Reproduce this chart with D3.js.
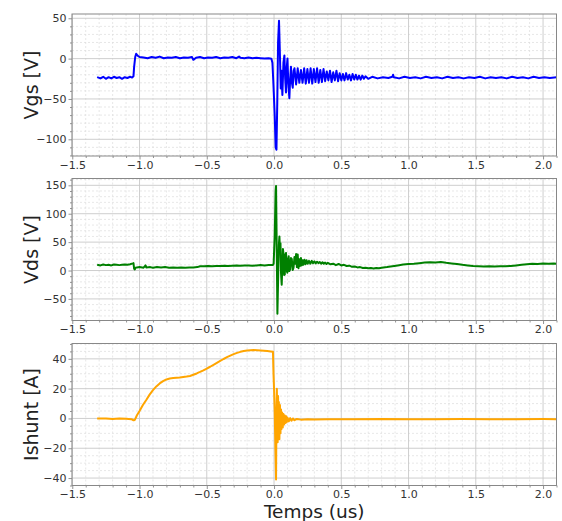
<!DOCTYPE html>
<html><head><meta charset="utf-8">
<script src="https://cdn.jsdelivr.net/npm/d3@7"></script>
<style>body{margin:0;background:#fff}</style>
</head><body><svg id="c" width="562" height="521"></svg>
<script>
// ---- data (time in us) ----
const timeTicks = [-1.5, -1.0, -0.5, 0.0, 0.5, 1.0, 1.5, 2.0];
const vgsTicks = [-100, -50, 0, 50];
const vdsTicks = [-50, 0, 50, 100, 150];
const ishuntTicks = [-40, -20, 0, 20, 40];
const panelLabels = ["Vgs [V]", "Vds [V]", "Ishunt [A]"];
const xLabel = "Temps (us)";

const vgsT = [-1.315,-1.29,-1.27,-1.25,-1.23,-1.21,-1.19,-1.17,-1.15,-1.13,-1.11,-1.09,-1.07,-1.055,-1.045,-1.04,-1.032,-1.025,-1.018,-1.01,-1.0,
  -0.97,-0.94,-0.91,-0.88,-0.85,-0.82,-0.79,-0.76,-0.73,-0.7,-0.67,-0.64,-0.61,-0.6,-0.58,-0.55,-0.52,-0.49,-0.46,-0.43,-0.4,-0.37,-0.34,-0.31,-0.28,-0.26,-0.25,-0.22,-0.19,-0.16,-0.13,-0.1,-0.07,-0.04,-0.02,
  -0.012,-0.005,0.005,0.012,0.018,0.024,0.03,0.037,0.043,0.05,0.055,0.062,0.07,0.077,0.083,0.089,0.095,0.1,0.106,0.114,0.12,0.126,0.133,0.139,0.146,
  0.152,0.164,0.176,0.188,0.2,0.212,0.224,0.236,0.248,0.26,0.272,0.284,0.296,0.308,0.32,0.332,0.344,0.356,0.368,0.38,0.392,0.404,0.416,0.428,0.44,0.452,0.464,0.476,0.488,0.5,0.512,0.524,0.536,0.548,0.56,0.572,0.584,0.596,0.608,0.62,0.632,0.644,0.656,0.668,0.68,0.7,
  0.73,0.77,0.81,0.85,0.88,0.885,0.89,0.93,0.97,1.01,1.05,1.09,1.13,1.17,1.21,1.25,1.29,1.33,1.37,1.41,1.45,1.49,1.53,1.57,1.61,1.65,1.69,1.73,1.77,1.81,1.85,1.89,1.93,1.97,2.01,2.05,2.1];
const vgsV = [-23,-24.5,-22.5,-25,-23,-24.5,-22.5,-24,-23,-25,-23,-24,-22.5,-23.5,-22,-10,2,6,4.5,3,2,
  1.5,0.5,2,1,2.5,0.5,1.5,1,2,0.5,1.5,1,2,-1.5,1,2,0.5,1.5,1,2,0.5,1.5,1,2,0.5,2.5,1,0.5,1.5,0.5,1,0.5,0,0.5,0,
  -5,-30,-70,-110,-113,-55,20,47,10,-37,-15,-45,-5,4,-25,-42,-10,0,-30,-49,-25,-10,-30,-36,-15,
  -12,-32,-12,-30,-14,-30,-12,-31,-13,-30,-12,-31,-13,-29,-12,-30,-14,-29,-13,-28,-16,-27,-15,-29,-17,-27,-15,-28,-18,-27,-19,-27,-18,-26,-20,-27,-19,-26,-20,-26,-21,-26,-21,-25,-22,-25,
  -22.5,-24.5,-23,-24,-22.5,-20,-23,-24.5,-22.5,-24,-23,-24.5,-22.5,-24,-23,-24.5,-22.5,-24,-23,-24.5,-23,-24,-22.5,-24.5,-23,-24,-23,-24.5,-22.5,-24,-23,-24.5,-22.5,-24,-23,-24,-23];

const vdsT = [-1.315,-1.29,-1.27,-1.25,-1.23,-1.21,-1.19,-1.17,-1.15,-1.13,-1.11,-1.09,-1.07,-1.05,-1.045,-1.04,-1.035,-1.03,-1.0,-0.97,-0.955,-0.95,-0.92,-0.9,-0.87,-0.84,-0.81,-0.78,-0.75,-0.72,-0.69,-0.66,-0.63,-0.6,-0.57,-0.55,-0.52,-0.49,-0.46,-0.43,-0.4,-0.37,-0.34,-0.31,-0.28,-0.25,-0.22,-0.19,-0.16,-0.13,-0.1,-0.07,-0.04,-0.01,
  -0.003,0.005,0.012,0.015,0.02,0.025,0.03,0.036,0.04,0.044,0.048,0.052,0.057,0.062,0.066,0.07,0.075,0.08,0.085,0.089,0.094,0.099,0.104,0.109,0.114,0.12,0.126,0.132,0.139,0.145,0.152,0.158,0.164,0.17,0.176,0.182,0.188,0.194,0.2,0.206,0.212,0.218,0.226,0.234,0.242,0.25,0.26,0.27,0.28,0.29,0.3,0.31,0.32,0.33,0.34,0.35,0.36,0.37,0.38,0.39,0.4,0.42,0.44,0.46,0.48,0.5,0.52,0.54,0.56,0.58,0.6,0.62,0.64,0.66,0.68,0.7,0.72,0.74,0.76,0.78,0.8,
  0.84,0.88,0.92,0.96,1.0,1.04,1.08,1.12,1.16,1.2,1.24,1.28,1.32,1.36,1.4,1.44,1.48,1.52,1.56,1.6,1.64,1.68,1.72,1.76,1.8,1.84,1.88,1.92,1.96,2.0,2.04,2.08,2.1];
const vdsV = [10,9,10.5,9.5,10,9,10.5,10,9.5,10,10.5,10,11,12.5,13,3,2,5,6,5,9,5.5,6,5,6,5.5,6,5,5.5,5,5.5,5,5.5,5.5,6,7.5,7.5,8,7.5,8,8,8.5,8,8.5,9,8.5,9,9,8.5,9,9.5,9,9.5,9.5,
  12,60,140,149,40,-76,-20,45,60,35,48,-5,-25,10,38,30,-8,-7,28,31,0,-4,20,25,-1,2,22,20,1,5,24,12,29,6,28,4,20,8,22,9,18,10,19,11,18,12,17,12,17,13,16,12.5,15.5,13,15,12,14.5,12,14,11.5,13.5,11,12,9.5,11.5,9,10,8,8.5,6.5,7,5.5,6,4.5,5,4,4.5,3.5,4.5,4,5,
  6,7.5,9,10.5,11.5,12,13,14,14.5,14,15,13.5,12.5,11.5,10,9,8,7.5,7,7.5,7,7.5,7.5,8,9,10,11,12,11.5,12.5,12,12.5,12];

const ishuntT = [-1.315,-1.25,-1.2,-1.15,-1.1,-1.06,-1.045,-1.035,-1.02,-1.0,-0.975,-0.95,-0.925,-0.9,-0.875,-0.85,-0.825,-0.8,-0.775,-0.75,-0.725,-0.7,-0.675,-0.65,-0.625,-0.6,-0.575,-0.55,-0.525,-0.5,-0.475,-0.45,-0.425,-0.4,-0.375,-0.35,-0.325,-0.3,-0.275,-0.25,-0.225,-0.2,-0.175,-0.15,-0.125,-0.1,-0.075,-0.05,-0.025,-0.008,
  -0.004,0.0,0.005,0.01,0.015,0.018,0.021,0.024,0.027,0.03,0.033,0.036,0.04,0.044,0.048,0.052,0.056,0.06,0.065,0.07,0.075,0.08,0.085,0.09,0.095,0.1,0.11,0.12,0.13,0.14,0.15,0.17,0.2,0.25,0.3,0.4,0.6,0.8,1.0,1.2,1.4,1.6,1.8,2.0,2.1];
const ishuntV = [0,0,-0.3,0,-0.2,-0.5,-1.2,-1,2,5,9,12.4,16,19,21.5,23.5,25,26.2,26.8,27.1,27.3,27.5,27.8,28.1,28.5,29.3,30.2,31.2,32.3,33.5,34.7,36,37.3,38.6,39.9,41.1,42.2,43.2,44,44.7,45.2,45.6,45.8,45.9,45.8,45.6,45.4,45.2,45,44.8,
  30,20,5,-20,-41,0,20,-5,-16,15,-11,11,-14,9,-10,6,-7,4,-6,3,-4,2,-3,1.5,-2.5,0.5,-2,0.2,-1.5,0,-1.2,-0.3,-0.8,-0.5,-0.7,-0.5,-0.6,-0.4,-0.6,-0.5,-0.4,-0.6,-0.5,-0.4,-0.5];

// ---- layout ----
const svg = d3.select("#c");
const left = 72, right = 556.5, ph = 142;
const tops = [14, 178.5, 343.5];
const x = d3.scaleLinear().domain([-1.502, 2.1]).range([left, right]);

const panels = [
  {t: vgsT, v: vgsV, dom: [-120.7, 55.3], ticks: vgsTicks, minor: 10, color: "#0000ff", label: panelLabels[0]},
  {t: vdsT, v: vdsV, dom: [-88, 162], ticks: vdsTicks, minor: 10, color: "#008000", label: panelLabels[1]},
  {t: ishuntT, v: ishuntV, dom: [-45, 50.3], ticks: ishuntTicks, minor: 5, color: "#ffa500", label: panelLabels[2]}
];

const font = "DejaVu Sans, sans-serif";
const xMinor = d3.range(-15, 22).map(d => d / 10).filter(d => !timeTicks.some(t => Math.abs(t - d) < 1e-9));

panels.forEach((p, i) => {
  const top = tops[i], bottom = top + ph;
  const y = d3.scaleLinear().domain(p.dom).range([bottom, top]);
  const g = svg.append("g");
  const yMinor = d3.range(Math.ceil(p.dom[0] / p.minor), Math.floor(p.dom[1] / p.minor) + 1)
    .map(d => d * p.minor).filter(d => !p.ticks.includes(d));

  // minor grid
  g.selectAll(".mgx").data(xMinor).join("line")
    .attr("x1", d => x(d)).attr("x2", d => x(d)).attr("y1", top).attr("y2", bottom)
    .attr("stroke", "#dcdcdc").attr("stroke-width", 0.7).attr("stroke-dasharray", "2,2");
  g.selectAll(".mgy").data(yMinor).join("line")
    .attr("x1", left).attr("x2", right).attr("y1", d => y(d)).attr("y2", d => y(d))
    .attr("stroke", "#dcdcdc").attr("stroke-width", 0.7).attr("stroke-dasharray", "2,2");
  // major grid
  g.selectAll(".Mgx").data(timeTicks).join("line")
    .attr("x1", d => x(d)).attr("x2", d => x(d)).attr("y1", top).attr("y2", bottom)
    .attr("stroke", "#c8c8c8").attr("stroke-width", 0.9);
  g.selectAll(".Mgy").data(p.ticks).join("line")
    .attr("x1", left).attr("x2", right).attr("y1", d => y(d)).attr("y2", d => y(d))
    .attr("stroke", "#c8c8c8").attr("stroke-width", 0.9);

  // data line
  const pts = p.t.map((t, k) => [t, p.v[k]]);
  g.append("path").datum(pts)
    .attr("d", d3.line().x(d => x(d[0])).y(d => y(d[1])))
    .attr("fill", "none").attr("stroke", p.color).attr("stroke-width", 2)
    .attr("stroke-linejoin", "round");

  // axes
  const xa = g.append("g").attr("transform", `translate(0,${bottom})`)
    .call(d3.axisBottom(x).tickValues(timeTicks).tickFormat(d3.format(".1f")).tickSize(3.5).tickPadding(1.5));
  const xm = g.append("g").attr("transform", `translate(0,${bottom})`)
    .call(d3.axisBottom(x).tickValues(xMinor).tickFormat("").tickSize(2));
  const ya = g.append("g").attr("transform", `translate(${left},0)`)
    .call(d3.axisLeft(y).tickValues(p.ticks).tickFormat(d3.format("d")).tickSize(3.5).tickPadding(2));
  const ym = g.append("g").attr("transform", `translate(${left},0)`)
    .call(d3.axisLeft(y).tickValues(yMinor).tickFormat("").tickSize(2));
  [xa, xm, ya, ym].forEach(a => {
    a.select(".domain").remove();
    a.selectAll(".tick line").attr("stroke", "#777").attr("stroke-width", 0.8);
    a.selectAll("text").attr("font-family", font).attr("font-size", 11).attr("fill", "#333");
  });

  // frame
  g.append("rect").attr("x", left).attr("y", top).attr("width", right - left).attr("height", ph)
    .attr("fill", "none").attr("stroke", "#888").attr("stroke-width", 1);

  // y label
  g.append("text").attr("transform", `translate(31,${(top + bottom) / 2}) rotate(-90)`)
    .attr("text-anchor", "middle").attr("dominant-baseline", "central")
    .attr("font-family", font).attr("font-size", 19).attr("fill", "#222").text(p.label);
});

svg.append("text").attr("x", (left + right) / 2).attr("y", 517.5)
  .attr("text-anchor", "middle").attr("font-family", font).attr("font-size", 18.5)
  .attr("fill", "#222").text(xLabel);
</script>
</body></html>
